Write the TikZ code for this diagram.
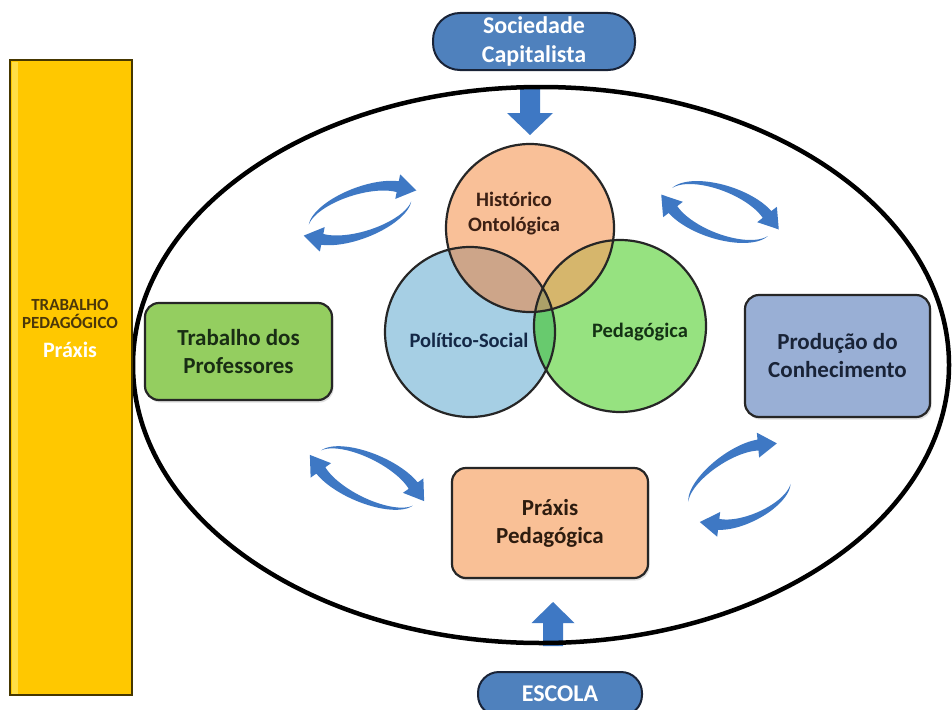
\documentclass[tikz,border=0pt]{standalone}
\usepackage{fontspec}
\setmainfont{Carlito}
\usetikzlibrary{shadows}

\definecolor{barGold}{RGB}{255,200,0}
\definecolor{barLight}{RGB}{255,222,70}
\definecolor{barEdge}{RGB}{70,55,0}
\definecolor{barText}{RGB}{75,55,10}
\definecolor{pillBlue}{RGB}{79,129,189}
\definecolor{pillEdge}{RGB}{25,35,55}
\definecolor{arrBlue}{RGB}{62,120,196}
\definecolor{histFill}{RGB}{249,192,152}
\definecolor{polFill}{RGB}{166,207,228}
\definecolor{pedFill}{RGB}{150,226,128}
\definecolor{hpFill}{RGB}{205,165,137}
\definecolor{hgFill}{RGB}{214,182,108}
\definecolor{pgFill}{RGB}{104,202,110}
\definecolor{allFill}{RGB}{172,160,104}
\definecolor{profFill}{RGB}{148,206,96}
\definecolor{prodFill}{RGB}{153,175,213}
\definecolor{praxFill}{RGB}{249,192,150}
\definecolor{profText}{RGB}{25,45,20}
\definecolor{prodText}{RGB}{25,35,55}
\definecolor{praxText}{RGB}{45,28,15}
\definecolor{histText}{RGB}{60,32,20}
\definecolor{polText}{RGB}{20,40,70}
\definecolor{pedText}{RGB}{20,50,20}

\tikzset{
  box/.style={draw=black!85, line width=2.2pt, rounded corners=14pt, inner sep=0pt,
    align=center, font=\bfseries\fontsize{23}{28}\selectfont,
    drop shadow={opacity=0.25, shadow xshift=1.5pt, shadow yshift=-2.5pt}},
  pill/.style={draw=pillEdge, fill=pillBlue, line width=2pt, inner sep=0pt,
    align=center, text=white, font=\bfseries\fontsize{24}{29}\selectfont},
  vennlabel/.style={align=center, font=\bfseries\fontsize{20.5}{25}\selectfont},
  venn/.style={draw=black!85, line width=2.2pt}
}

% tapered curved arrow along a rotated ellipse:
% #1,#2 centre, #3 rotation, #4,#5 semi-axes, #6 start angle, #7 end angle
\newcommand\bendarrow[7]{%
  \begin{scope}[shift={(#1,#2)}, rotate=#3]
    \pgfmathsetmacro\ea{#4}%
    \pgfmathsetmacro\eb{#5}%
    \pgfmathsetmacro\tanx{-\ea*sin(#7)}%
    \pgfmathsetmacro\tany{\eb*cos(#7)}%
    \pgfmathsetmacro\tanl{sqrt(\tanx*\tanx+\tany*\tany)}%
    \pgfmathsetmacro\ux{\tanx/\tanl}%
    \pgfmathsetmacro\uy{\tany/\tanl}%
    \pgfmathsetmacro\px{\ea*cos(#7)}%
    \pgfmathsetmacro\py{\eb*sin(#7)}%
    \fill[arrBlue]
      plot[domain=#6:#7, samples=40, variable=\u]
        ({\ea*cos(\u) + 5.5*(\u-#6)/(#7-#6)*\eb*cos(\u)/sqrt((\ea*sin(\u))^2+(\eb*cos(\u))^2)},
         {\eb*sin(\u) + 5.5*(\u-#6)/(#7-#6)*\ea*sin(\u)/sqrt((\ea*sin(\u))^2+(\eb*cos(\u))^2)})
      -- ({\px+12.5*\uy}, {\py-12.5*\ux})
      -- ({\px+19*\ux}, {\py+19*\uy})
      -- ({\px-12.5*\uy}, {\py+12.5*\ux})
      -- plot[domain=#7:#6, samples=40, variable=\u]
        ({\ea*cos(\u) - 5.5*(\u-#6)/(#7-#6)*\eb*cos(\u)/sqrt((\ea*sin(\u))^2+(\eb*cos(\u))^2)},
         {\eb*sin(\u) - 5.5*(\u-#6)/(#7-#6)*\ea*sin(\u)/sqrt((\ea*sin(\u))^2+(\eb*cos(\u))^2)})
      -- cycle;
  \end{scope}%
}

\begin{document}
\begin{tikzpicture}[x=1pt, y=-1pt]
  \fill[white] (0,0) rectangle (952,709);
  \useasboundingbox (0,0) rectangle (952,709);

  % block arrows entering the ellipse
  \coordinate (topTip) at (530,135);
  \coordinate (botTip) at (553,602);
  \fill[arrBlue, shift={(topTip)}]
    (-10,-50) -- (10,-50) -- (10,-22) -- (23,-22) -- (0,0) -- (-23,-22) -- (-10,-22) -- cycle;
  \fill[arrBlue, shift={(botTip)}]
    (-10,44) -- (10,44) -- (10,21) -- (21.5,21) -- (0,0) -- (-21.5,21) -- (-10,21) -- cycle;

  % the large ellipse
  \draw[line width=4.5pt] (541,365) ellipse [x radius=408, y radius=278];

  % left bar
  \node[draw=barEdge, fill=barGold, line width=1.8pt, minimum width=122pt,
        minimum height=635pt, inner sep=0pt] (bar) at (71,377.5) {};
  \fill[barLight] (11.5,61.5) rectangle (18,693.5);
  \node[align=center, text=barText, font=\bfseries\fontsize{17}{18.5}\selectfont]
    (barlabel) at (70,314) {TRABALHO\\PEDAGÓGICO};
  \node[text=white, font=\bfseries\fontsize{22}{25}\selectfont]
    (barpraxis) at (70,350) {Práxis};

  % pills
  \node[pill, minimum width=202pt, minimum height=57pt, rounded corners=27pt]
    (soc) at (534,41.5) {Sociedade\\Capitalista};
  \node[pill, minimum width=164pt, minimum height=44pt, rounded corners=21pt]
    (escola) at (560,694) {ESCOLA};

  % Venn circles
  \coordinate (hc) at (530,228);
  \coordinate (pc) at (470,332);
  \coordinate (gc) at (620,326);
  \fill[histFill] (hc) circle[radius=84];
  \fill[polFill] (pc) circle[radius=85];
  \fill[pedFill] (gc) circle[radius=86];
  \begin{scope}
    \clip (hc) circle[radius=84];
    \fill[hpFill] (pc) circle[radius=85];
    \fill[hgFill] (gc) circle[radius=86];
  \end{scope}
  \begin{scope}
    \clip (pc) circle[radius=85];
    \fill[pgFill] (gc) circle[radius=86];
    \clip (hc) circle[radius=84];
    \fill[allFill] (gc) circle[radius=86];
  \end{scope}
  \draw[venn] (hc) circle[radius=84];
  \draw[venn] (pc) circle[radius=85];
  \draw[venn] (gc) circle[radius=86];
  \node[vennlabel, text=histText] (hist) at (514,214) {Histórico\\Ontológica};
  \node[vennlabel, text=polText] (pol) at (469,340) {Político-Social};
  \node[vennlabel, text=pedText] (ped) at (640,332) {Pedagógica};

  % boxes
  \node[box, fill=profFill, text=profText, minimum width=187pt, minimum height=97pt]
    (prof) at (238.5,351.5) {Trabalho dos\\Professores};
  \node[box, fill=prodFill, text=prodText, minimum width=185pt, minimum height=122pt]
    (prod) at (837.5,356) {Produção do\\Conhecimento};
  \node[box, fill=praxFill, text=praxText, minimum width=196pt, minimum height=110pt]
    (prax) at (550,523) {Práxis\\Pedagógica};

  % circulating arrow pairs
  \bendarrow{360}{213}{19}{54}{22}{195}{325}
  \bendarrow{360}{213}{19}{54}{22}{15}{145}
  \bendarrow{720}{212}{-20}{55}{24}{195}{325}
  \bendarrow{720}{212}{-20}{55}{24}{15}{145}
  \bendarrow{367}{478}{-25}{55}{22}{195}{325}
  \bendarrow{367}{478}{-25}{55}{22}{15}{145}
  \bendarrow{731}{478}{35}{50}{20}{195}{325}
  \bendarrow{748}{498}{25}{46}{20}{15}{145}
\end{tikzpicture}
\end{document}
